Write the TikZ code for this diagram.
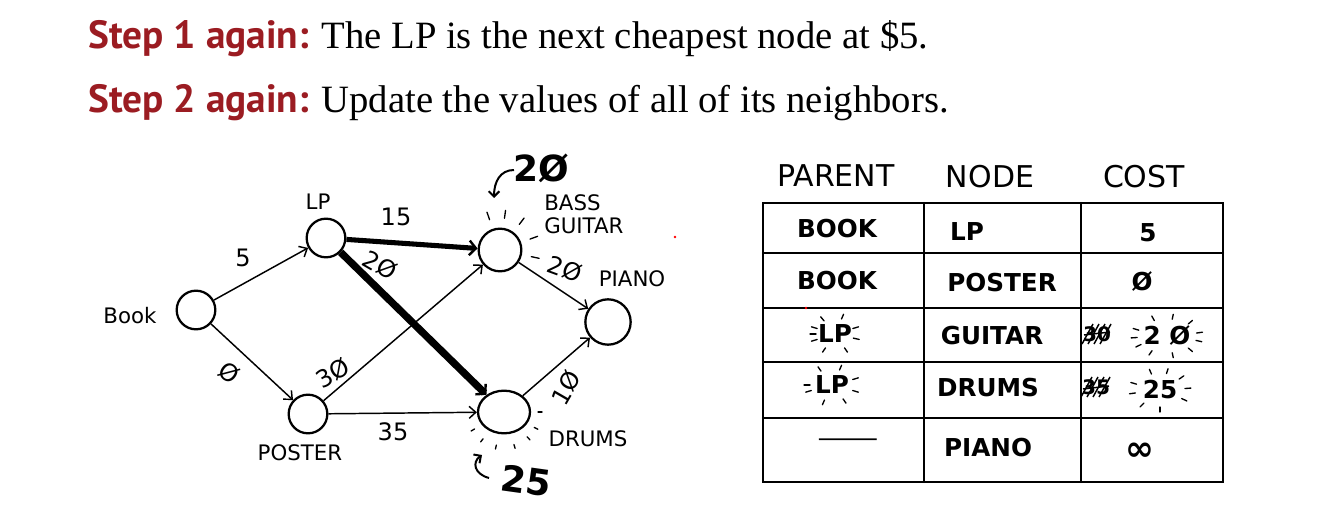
\documentclass[tikz,border=0pt]{standalone}
\usepackage{fontspec}
\usepackage{graphicx}
\setmainfont{Liberation Serif}
\newfontfamily\titlesans{PT Sans}
\newfontfamily\hand{DejaVu Sans}
\usetikzlibrary{arrows.meta,calc,shapes.geometric}
\definecolor{stepred}{HTML}{9B1C22}
\newcommand\sparkring[4]{\foreach \a in {#4} \draw[spark] ($(#1)+(\a:#2)$) -- ($(#1)+(\a:#3)$);}
\begin{document}
\begin{tikzpicture}[x=0.75pt,y=-0.75pt,
  vert/.style={circle,draw,line width=1.7pt,inner sep=0pt},
  tip/.style={-{Straight Barb[length=5pt,width=9pt]}},
  edge/.style={line width=1.1pt,tip},
  heavy/.style={line width=#1,-{Straight Barb[length=5pt,width=11pt,line width=1.8pt]}},
  lbl/.style={font=\hand\fontsize{16}{16}\selectfont,inner sep=0pt},
  num/.style={font=\hand\fontsize{18}{18}\selectfont,inner sep=0pt},
  big/.style={font=\hand\bfseries\fontsize{27}{27}\selectfont,inner sep=0pt},
  cell/.style={font=\hand\bfseries\fontsize{18.5}{18.5}\selectfont,inner sep=0pt},
  head/.style={font=\hand\fontsize{22.5}{22.5}\selectfont,inner sep=0pt},
  spark/.style={line width=1pt,line cap=round},
  grid/.style={line width=1.8pt,line cap=round}
]
\useasboundingbox (0,0) rectangle (1334,520);

% titles
\node[anchor=base west,inner sep=0pt,font=\fontsize{29}{29}\selectfont] (t1) at (88,49)
  {{\titlesans\bfseries\fontsize{29.5}{29.5}\selectfont\color{stepred}Step 1 again:} The LP is the next cheapest node at \$5.};
\node[anchor=base west,inner sep=0pt,font=\fontsize{29}{29}\selectfont] (t2) at (88,113)
  {{\titlesans\bfseries\fontsize{29.5}{29.5}\selectfont\color{stepred}Step 2 again:} Update the values of all of its neighbors.};

% graph nodes
\node[vert,minimum size=29pt] (book) at (196,310) {};
\node[vert,minimum size=29pt] (lp) at (326,238) {};
\node[vert,minimum size=29pt] (poster) at (308,414) {};
\node[vert,minimum size=32pt] (bass) at (500,250) {};
\node[vert,ellipse,minimum width=39pt,minimum height=32pt] (drums) at (504,412) {};
\node[vert,minimum size=34pt] (piano) at (608,322) {};

% node labels
\node[lbl] (lbook) at (130,316) {Book};
\node[lbl] (llp) at (318,202) {LP};
\node[lbl] (lposter) at (300,453) {POSTER};
\node[lbl,anchor=west] (lbass) at (544,203) {BASS};
\node[lbl,anchor=west] (lguitar) at (544,226) {GUITAR};
\node[lbl] (lpiano) at (632,279) {PIANO};
\node[lbl] (ldrums) at (588,439) {DRUMS};

% edges
\draw[edge] (book) -- (lp);
\draw[edge] (book) -- (poster);
\draw[heavy=3.8pt] (lp) -- (bass);
\draw[heavy=5.5pt] (lp) -- (drums);
\draw[edge] (poster) -- (bass);
\draw[edge] (poster) -- (drums);
\draw[edge] (bass) -- (piano);
\draw[edge] (drums) -- (piano);

% edge labels
\node[num] (w5) at (243,258) {5};
\node[num,rotate=-35] (w0) at (229,373) {Ø};
\node[num] (w15) at (396,217) {15};
\node[num,rotate=-30] (w20a) at (380,265) {2Ø};
\node[num,rotate=30] (w30) at (333,373) {3Ø};
\node[num] (w35) at (393,432) {35};
\node[num,rotate=-20] (w20b) at (565,269) {2Ø};
\node[num,rotate=60] (w10) at (566,388) {1Ø};

% updates
\node[big] (new20) at (541,168) {2Ø};
\coordinate (a1s) at (514,170);
\coordinate (a1e) at (494,198);
\draw[line width=1.5pt,-{Straight Barb[length=4pt,width=8pt]}] (a1s) .. controls (500,170) and (494,182) .. (a1e);
\sparkring{bass}{32}{40}{-109,-82,-53,-20,12}

\node[big,rotate=-8] (new25) at (526,481) {25};
\coordinate (a2s) at (489,478);
\coordinate (a2e) at (482,455);
\draw[line width=1.5pt,-{Straight Barb[length=4pt,width=8pt]}] (a2s) .. controls (474,474) and (472,462) .. (a2e);
\sparkring{drums}{34}{38}{0,27,47,73,103,128,150}

% table
\node[head] (hparent) at (836,176) {PARENT};
\node[head] (hnode) at (990,177) {NODE};
\node[head] (hcost) at (1144,177) {COST};

\draw[grid] (763,203) -- (1223,203) -- (1223,482) -- (763,482) -- cycle;
\foreach \yy in {253,308,362,418} \draw[grid] (763,\yy) -- (1223,\yy);
\draw[grid] (924,203) -- (924,482);
\draw[grid] (1081,203) -- (1081,482);

\node[cell] (p1) at (837,229) {BOOK};
\node[cell] (n1) at (967,232) {LP};
\node[cell] (c1) at (1148,233) {5};
\node[cell] (p2) at (837,281) {BOOK};
\node[cell] (n2) at (1002,283) {POSTER};
\node[cell] (c2) at (1142,282) {Ø};
\node[cell] (p3) at (835,334) {LP};
\node[cell] (n3) at (992,336) {GUITAR};
\node[cell,font=\hand\bfseries\fontsize{15}{15}\selectfont] (x3) at (1097,334) {30};
\node[cell] (c3) at (1167,336) {2 Ø};
\node[cell] (p4) at (832,385) {LP};
\node[cell] (n4) at (988,388) {DRUMS};
\node[cell,font=\hand\bfseries\fontsize{15}{15}\selectfont] (x4) at (1096,387) {35};
\node[cell] (c4) at (1160,390) {25};
\node[cell,font=\hand\fontsize{18.5}{18.5}\selectfont] (p5) at (848,443) {\scalebox{2.6}[1]{—}};
\node[cell] (n5) at (988,448) {PIANO};
\node[cell,font=\hand\bfseries\fontsize{26}{26}\selectfont] (c5) at (1140,452) {∞};

% crossings
\foreach \dx in {-10,-4,2,8} \draw[line width=1.1pt] ($(x3)+(\dx-5,10)$) -- ($(x3)+(\dx+6,-10)$);
\draw[line width=1.1pt] ($(x3)+(-13,1)$) -- ($(x3)+(13,-2)$);
\foreach \dx in {-10,-4,2,8} \draw[line width=1.1pt] ($(x4)+(\dx-5,10)$) -- ($(x4)+(\dx+6,-10)$);
\draw[line width=1.1pt] ($(x4)+(-13,2)$) -- ($(x4)+(13,-1)$);

% table sparkles
\sparkring{p3}{19 and 16}{25 and 21}{180,200,-125,-70,-20,15,60,120,160}
\sparkring{p4}{22 and 16}{28 and 21}{180,160,-120,-70,-20,20,60,110}
\sparkring{c3}{30 and 17}{36 and 22}{175,200,-115,-80,-45,-10,15,45,80,120,150}
\sparkring{c4}{25 and 17}{31 and 22}{170,200,-110,-75,-40,-5,30,90,130}

% specks
\fill[red] (675,237) circle (1.3);
\fill[red] (806,308) circle (1.3);
\end{tikzpicture}
\end{document}
